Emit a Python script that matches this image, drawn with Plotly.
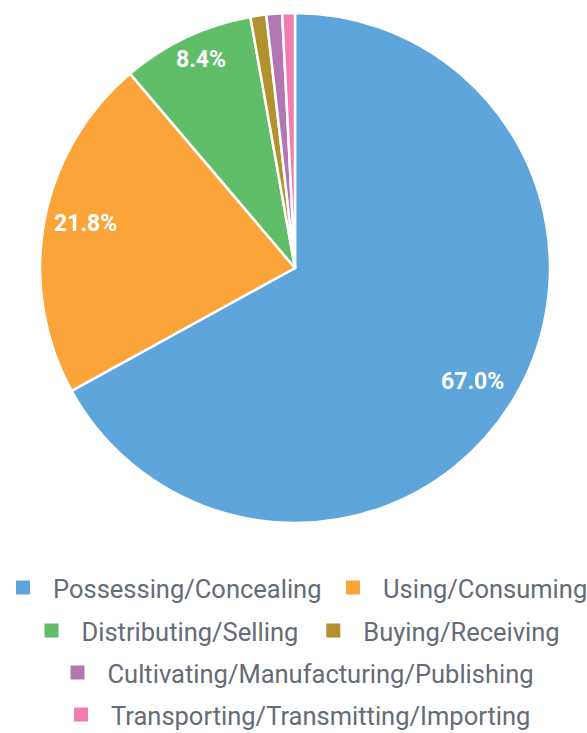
import math
import plotly.graph_objects as go

# Share of cases by offence type (percent)
categories = [
    "Possessing/Concealing",
    "Using/Consuming",
    "Distributing/Selling",
    "Buying/Receiving",
    "Cultivating/Manufacturing/Publishing",
    "Transporting/Transmitting/Importing",
]
shares = [67.0, 21.8, 8.4, 1.0, 1.0, 0.8]
colors = ["#5DA5DA", "#FAA43A", "#60BD68", "#B2912F", "#B276B2", "#F17CB0"]

W, H = 587, 733

# pie geometry in pixels
CX, CY, R = 295, 268, 255
PAD = 0.0

# slice labels: radial position (fraction of radius) and small angular nudge
LABEL_MIN = 5.0
label_radius = [0.825, 0.84, 0.895]
label_nudge = [2.0, 1.6, 0.9]

fig = go.Figure()
fig.add_trace(go.Pie(
    labels=categories,
    values=shares,
    sort=False,
    direction="clockwise",
    rotation=0,
    marker=dict(colors=colors, line=dict(color="white", width=2.5)),
    textinfo="none",
    showlegend=False,
    hoverinfo="label+percent",
    domain=dict(
        x=[(CX - R - PAD) / W, (CX + R + PAD) / W],
        y=[1 - (CY + R + PAD) / H, 1 - (CY - R - PAD) / H],
    ),
))

# percentage labels at each large slice's mid-angle
total = sum(shares)
start = 0.0
k = 0
for v in shares:
    span = 360.0 * v / total
    if v >= LABEL_MIN:
        theta = math.radians(start + span / 2 + label_nudge[k])
        r = label_radius[k] * R
        px = CX + r * math.sin(theta)
        py = CY - r * math.cos(theta)
        fig.add_annotation(
            x=px / W, y=1 - py / H, xref="paper", yref="paper",
            text=f"{v / total * 100:.1f}%", showarrow=False,
            xanchor="center", yanchor="middle",
            font=dict(family="Roboto", size=23, color="white", weight="bold"),
        )
        k += 1
    start += span

# legend: one legend per entry group so each row is laid out like the original
# (row y in px, list of (category index, left x in px or None for centred))
legend_rows = [
    (588, [(0, -7.0), (1, 323.0)]),
    (631, [(2, None), (3, None)]),
    (673, [(4, None)]),
    (715, [(5, None)]),
]
legend_font = dict(family="Roboto", size=25.5, color="#646c77")
legend_layout = {}
n = 0
for row_y, items in legend_rows:
    groups = []
    if all(xa is None for _, xa in items):
        groups.append(([i for i, _ in items], None))
    else:
        for i, xa in items:
            groups.append(([i], xa))
    for idxs, xa in groups:
        n += 1
        name = "legend" if n == 1 else f"legend{n}"
        for i in idxs:
            fig.add_trace(go.Scatter(
                x=[None], y=[None], mode="markers", name=categories[i],
                marker=dict(symbol="square", size=14, color=colors[i]),
                legend=name, showlegend=True, hoverinfo="skip",
            ))
        spec = dict(
            orientation="h",
            y=1 - row_y / H, yanchor="middle",
            font=legend_font, itemwidth=50, bgcolor="rgba(0,0,0,0)",
            itemclick=False, itemdoubleclick=False,
        )
        if xa is None:
            spec.update(x=0.5, xanchor="center")
        else:
            spec.update(x=xa / W, xanchor="left")
        legend_layout[name] = spec

fig.update_layout(
    width=W, height=H,
    margin=dict(l=0, r=0, t=0, b=0, autoexpand=False),
    paper_bgcolor="white", plot_bgcolor="white",
    xaxis=dict(visible=False), yaxis=dict(visible=False),
    **legend_layout,
)

fig.write_html("out.html")
